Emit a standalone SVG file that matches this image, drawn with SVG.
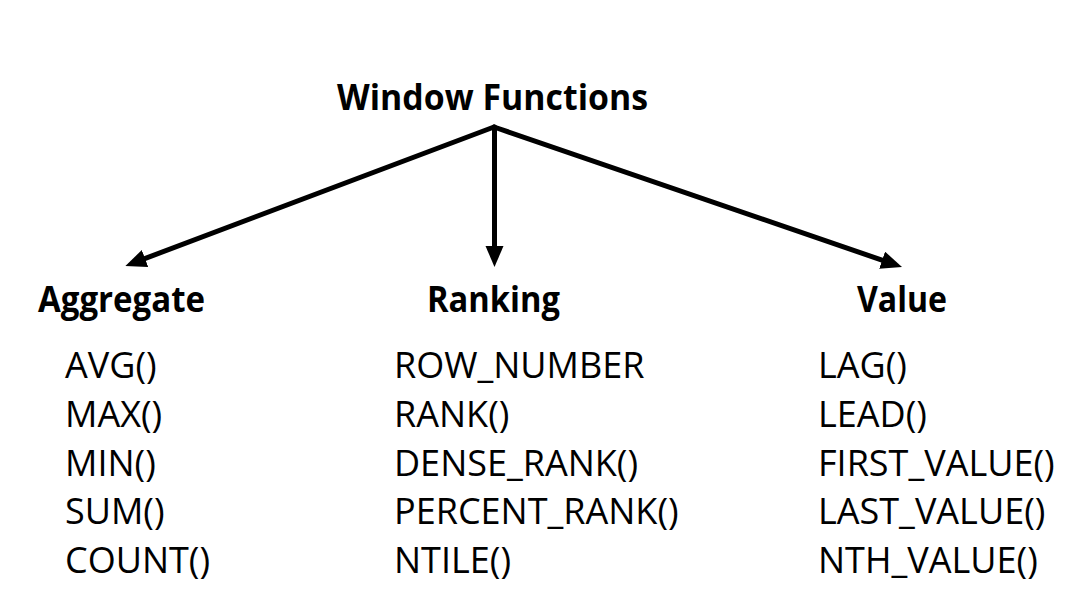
<svg xmlns="http://www.w3.org/2000/svg" width="1084" height="612" viewBox="0 0 1084 612">
<style>
.h{font-family:"Open Sans","Noto Sans","Liberation Sans",sans-serif;font-weight:700;font-size:35px;fill:#000}
.i{font-family:"Open Sans","Noto Sans","Liberation Sans",sans-serif;font-weight:400;font-size:36px;fill:#000}
.c{stroke:#000;stroke-width:5;fill:none;stroke-linecap:round;marker-end:url(#ah)}
</style>
<defs>
<marker id="ah" markerUnits="userSpaceOnUse" markerWidth="22" markerHeight="20" viewBox="0 0 22 20" refX="6" refY="9" orient="auto">
<path d="M0,0 L21,9 L0,18 Z" fill="#000"/>
</marker>
</defs>
<rect width="1084" height="612" fill="#fff"/>
<g id="connectors">
<line class="c" x1="494" y1="127" x2="139.4" y2="260.6"/>
<line class="c" x1="494.5" y1="127" x2="494.5" y2="252"/>
<line class="c" x1="494" y1="127" x2="887.8" y2="262.1"/>
</g>
<g id="window-functions">
<text class="h" x="337" y="109.5" textLength="311" lengthAdjust="spacingAndGlyphs">Window Functions</text>
</g>
<g id="aggregate">
<text class="h" x="38" y="311.5" textLength="167" lengthAdjust="spacingAndGlyphs">Aggregate</text>
<text class="i" x="65" y="378">AVG()</text>
<text class="i" x="65" y="427">MAX()</text>
<text class="i" x="65" y="475.5">MIN()</text>
<text class="i" x="65" y="524">SUM()</text>
<text class="i" x="65" y="572.5">COUNT()</text>
</g>
<g id="ranking">
<text class="h" x="427" y="311.5" textLength="133" lengthAdjust="spacingAndGlyphs">Ranking</text>
<text class="i" x="394" y="378">ROW_NUMBER</text>
<text class="i" x="394" y="427">RANK()</text>
<text class="i" x="394" y="475.5">DENSE_RANK()</text>
<text class="i" x="394" y="524">PERCENT_RANK()</text>
<text class="i" x="394" y="572.5">NTILE()</text>
</g>
<g id="value">
<text class="h" x="857" y="311.5" textLength="90" lengthAdjust="spacingAndGlyphs">Value</text>
<text class="i" x="818" y="378">LAG()</text>
<text class="i" x="818" y="427">LEAD()</text>
<text class="i" x="818" y="475.5">FIRST_VALUE()</text>
<text class="i" x="818" y="524">LAST_VALUE()</text>
<text class="i" x="818" y="572.5">NTH_VALUE()</text>
</g>
</svg>
